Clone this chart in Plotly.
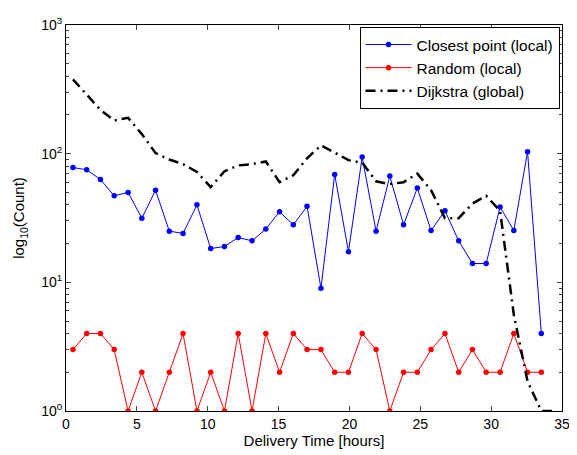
import plotly.graph_objects as go

hours = [0.49, 1.46, 2.43, 3.40, 4.38, 5.35, 6.32, 7.29, 8.26, 9.24,
         10.21, 11.18, 12.15, 13.13, 14.10, 15.07, 16.04, 17.01, 17.99, 18.96,
         19.93, 20.90, 21.88, 22.85, 23.82, 24.79, 25.76, 26.74, 27.71, 28.68,
         29.65, 30.63, 31.60, 32.57, 33.54]

closest = [78, 75, 63, 47, 50, 31.5, 52, 25, 24, 40,
           18.3, 19, 22.3, 21, 26, 35.3, 28, 39, 9, 69,
           17.3, 94, 25, 67, 28, 54, 25.3, 36, 21, 14,
           14, 38.5, 25.3, 103.5, 4]

random_local = [3, 4, 4, 3, 1, 2, 1, 2, 4, 1,
                2, 1, 4, 1, 4, 2, 4, 3, 3, 2,
                2, 4, 3, 1, 2, 2, 3, 4, 2, 3,
                2, 2, 4, 2, 2]

dijkstra_hours = hours + [34.4]
dijkstra = [378, 290, 219, 181, 190, 142, 101, 90, 83, 72,
            55, 73, 81, 83, 87, 60, 68, 92, 116, 102,
            89, 85, 61, 58, 60, 70, 52, 31.5, 31.5, 41,
            47, 36, 5.6, 1.7, 1, 1]

y_tickvals = [1, 10, 100, 1000]
y_ticktext = ["10<sup>0</sup>", "10<sup>1</sup>", "10<sup>2</sup>", "10<sup>3</sup>"]
y_minor = [m * d for d in (1, 10, 100) for m in range(2, 10)]
x_tickvals = [0, 5, 10, 15, 20, 25, 30, 35]

fig = go.Figure()
fig.add_trace(go.Scatter(x=hours, y=closest, mode="lines+markers",
                         name="Closest point (local)",
                         line=dict(color="#0000ff", width=1),
                         marker=dict(color="#0000ff", size=5.5)))
fig.add_trace(go.Scatter(x=hours, y=random_local, mode="lines+markers",
                         name="Random (local)",
                         line=dict(color="#ff0000", width=1),
                         marker=dict(color="#ff0000", size=5.5)))
fig.add_trace(go.Scatter(x=dijkstra_hours, y=dijkstra, mode="lines",
                         name="Dijkstra (global)",
                         line=dict(color="black", width=2.5, dash="10px,5px,2px,5px")))

font = "Liberation Sans, Arial, Helvetica, sans-serif"
fig.update_layout(
    width=569, height=447,
    margin=dict(l=58, r=9, t=7, b=44),
    paper_bgcolor="white", plot_bgcolor="white",
    font=dict(family=font, size=14, color="black"),
    showlegend=True,
    legend=dict(x=0.995, y=0.995, xanchor="right", yanchor="top",
                bgcolor="white", bordercolor="black", borderwidth=1,
                font=dict(size=15.5), tracegroupgap=0, itemwidth=46,
                entrywidth=0),
    xaxis=dict(range=[0, 35], tickvals=x_tickvals, ticks="inside", ticklen=5,
               showline=True, linecolor="black", linewidth=1, mirror="ticks",
               showgrid=False, zeroline=False, ticklabeloverflow="allow",
               title=dict(text="Delivery Time [hours]", standoff=0, font=dict(size=15)),
               tickfont=dict(size=14)),
    yaxis=dict(type="log", range=[0, 3], tickvals=y_tickvals, ticktext=y_ticktext,
               ticks="inside", ticklen=5, showline=True, linecolor="black",
               linewidth=1, mirror="ticks", showgrid=False, zeroline=False,
               ticklabeloverflow="allow",
               minor=dict(tickvals=y_minor, ticks="inside", ticklen=3, showgrid=False),
               title=dict(text="log<sub>10</sub>(Count)", standoff=12, font=dict(size=15)),
               tickfont=dict(size=14)),
)

fig.write_html("out.html")
